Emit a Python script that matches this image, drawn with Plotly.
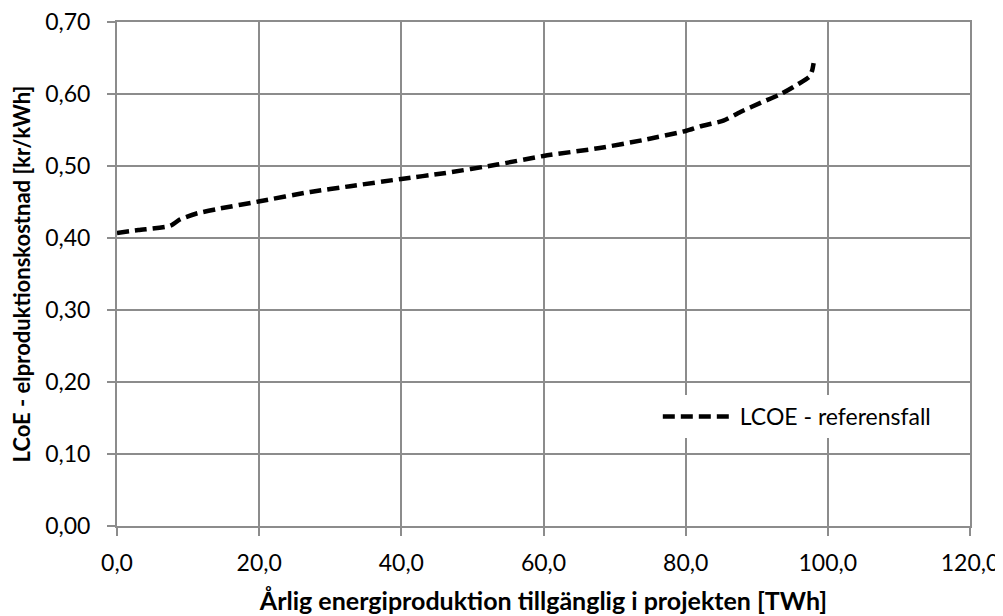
import plotly.graph_objects as go

# Årlig energiproduktion [TWh] och LCOE [kr/kWh]
energi = [0.0, 3.0, 7.5, 8.9, 11.2, 14.5, 20.1, 27.2, 32.8, 40.0, 46.0, 53.5, 60.0,
          67.9, 74.0, 80.1, 82.0, 85.3, 87.7, 90.6, 93.4, 95.7, 97.4, 97.8, 98.0]
lcoe = [0.407, 0.411, 0.417, 0.426, 0.434, 0.441, 0.451, 0.464, 0.472, 0.482, 0.490,
        0.502, 0.514, 0.525, 0.536, 0.549, 0.555, 0.563, 0.575, 0.588, 0.600, 0.613,
        0.624, 0.633, 0.643]

x_ticks = [0, 20, 40, 60, 80, 100, 120]
y_ticks = [0.0, 0.1, 0.2, 0.3, 0.4, 0.5, 0.6, 0.7]

font = "Lato, 'Open Sans', sans-serif"
grid = "#8c8c8c"

fig = go.Figure()
fig.add_trace(go.Scatter(
    x=energi, y=lcoe, mode="lines", name="LCOE - referensfall",
    line=dict(color="black", width=4.5, dash="12px,6px", shape="spline", smoothing=0.6),
))

# sidan har 8 px marginal i body, så figuren görs 8 px mindre
fig.update_layout(
    width=995, height=608,
    margin=dict(l=109, r=33, t=14, b=90),
    paper_bgcolor="white", plot_bgcolor="white",
    font=dict(family=font, size=23, color="black"),
    showlegend=True,
    legend=dict(x=0.634, y=0.26, xanchor="left", yanchor="top",
                bgcolor="white", borderwidth=0, font=dict(size=23),
                itemwidth=72),
)
fig.update_xaxes(
    range=[0, 120], tickvals=x_ticks,
    ticktext=[f"{v:.1f}".replace(".", ",") for v in x_ticks],
    showgrid=True, gridcolor=grid, gridwidth=2,
    showline=True, linecolor=grid, linewidth=2, mirror=True,
    ticks="outside", ticklen=8, tickcolor=grid, tickwidth=2,
    ticklabelstandoff=7, ticklabeloverflow="allow", automargin=False,
    zeroline=False,
    title=dict(text="<b>Årlig energiproduktion tillgänglig i projekten [TWh]</b>",
               font=dict(size=25), standoff=18),
)
fig.update_yaxes(
    range=[0, 0.7], tickvals=y_ticks,
    ticktext=[f"{v:.2f}".replace(".", ",") for v in y_ticks],
    showgrid=True, gridcolor=grid, gridwidth=2,
    showline=True, linecolor=grid, linewidth=2, mirror=True,
    ticks="outside", ticklen=8, tickcolor=grid, tickwidth=2,
    ticklabelstandoff=12, ticklabeloverflow="allow", automargin=False,
    zeroline=False,
    title=dict(text="<b>LCoE - elproduktionskostnad [kr/kWh]</b>",
               font=dict(size=22), standoff=10),
)

fig.write_html("out.html")
